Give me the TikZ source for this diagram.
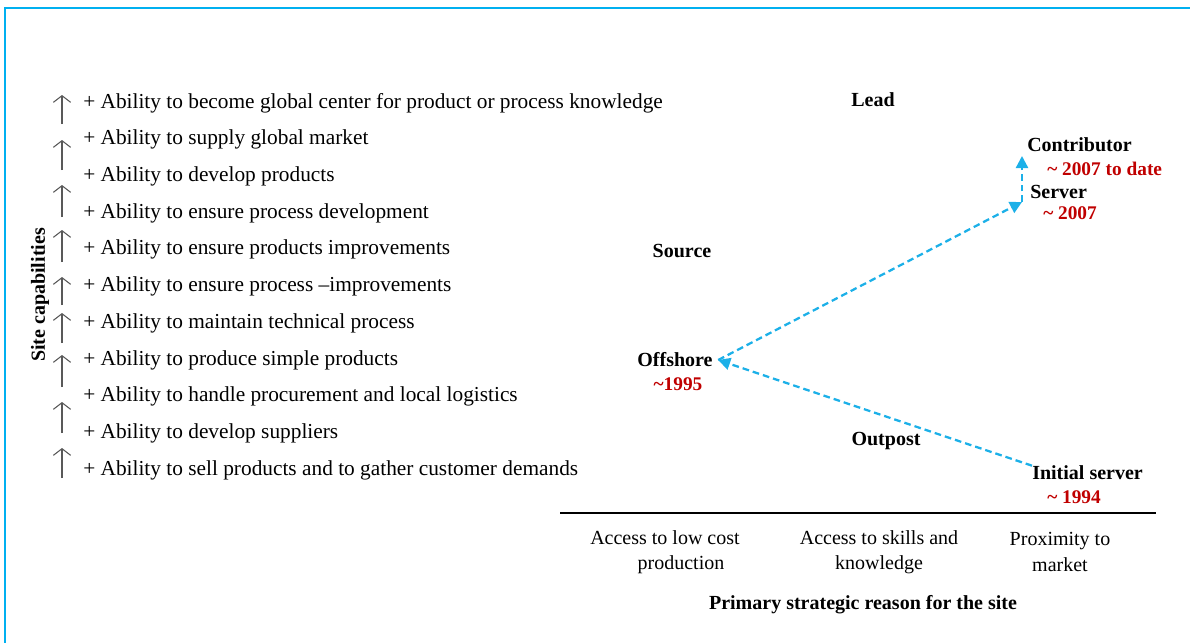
\documentclass[tikz,border=0pt]{standalone}
\usepackage{fontspec}
\setmainfont{Liberation Serif}
\usetikzlibrary{arrows.meta,positioning}

\definecolor{framecyan}{HTML}{00B0F0}
\definecolor{pathblue}{HTML}{1CB0E8}
\definecolor{yearred}{HTML}{C00000}
\definecolor{capgray}{HTML}{595959}

\tikzset{
  item/.style={anchor=west, inner sep=0pt, font=\fontsize{16}{19}\selectfont},
  role/.style={inner sep=0pt, font=\fontsize{15}{18}\selectfont\bfseries},
  year/.style={inner sep=0pt, text=yearred, font=\fontsize{14.5}{17}\selectfont\bfseries},
  reason/.style={inner sep=0pt, align=center, font=\fontsize{15}{19}\selectfont},
  capup/.style={capgray, line width=0.8pt, -{Straight Barb[length=5pt,width=13pt]}},
  move/.style={pathblue, line width=1.7pt, dash pattern=on 5pt off 3pt,
    -{Triangle[length=9pt,width=9pt]}}
}

\begin{document}
\begin{tikzpicture}[x=0.75pt, y=-0.75pt]
  \useasboundingbox (0,0) rectangle (1190,643);
  \draw[framecyan, line width=2pt] (5,8) rectangle (1210,660);

  %capabilities
  \foreach \txt [count=\i] in {%
      + Ability to become global center for product or process knowledge,
      + Ability to supply global market,
      + Ability to develop products,
      + Ability to ensure process development,
      + Ability to ensure products improvements,
      + Ability to ensure process --improvements,
      + Ability to maintain technical process,
      + Ability to produce simple products,
      + Ability to handle procurement and local logistics,
      + Ability to develop suppliers,
      + Ability to sell products and to gather customer demands}
    \node[item] (cap\i) at (83, 103+36.7*\i-36.7) {\txt};
  \foreach \lo/\hi [count=\j] in {124/95, 170/140, 217/185, 262/230, 305/277,
      343/313, 387/355, 433/402, 478/448}
    {
      \coordinate (up\j a) at (62,\lo);
      \coordinate (up\j b) at (62,\hi);
      \draw[capup] (up\j a) -- (up\j b);
    }
  \node[role, rotate=90] (sitecap) at (40,295) {Site capabilities};

  %roles
  \node[role] (lead) at (873,100) {Lead};
  \node[role] (source) at (682,251) {Source};
  \node[role] (outpost) at (886,441) {Outpost};
  \node[role] (off) at (675,360) {Offshore};
  \node[year] (offyr) at (678,384) {\textasciitilde 1995};
  \node[role, anchor=west] (ctb) at (1027,145) {Contributor};
  \node[year, anchor=west] (ctbyr) at (1047,169) {\textasciitilde{} 2007 to date};
  \node[role, anchor=west] (srv) at (1030,192) {Server};
  \node[year, anchor=west] (srvyr) at (1043,213) {\textasciitilde{} 2007};
  \node[role, anchor=west] (init) at (1032,473) {Initial server};
  \node[year, anchor=west] (inityr) at (1047,497) {\textasciitilde{} 1994};

  \coordinate (bend) at (1022,202);
  \coordinate (rise) at (1022,156);
  \draw[move] (init.north west) -- ([xshift=4pt]off.east);
  \draw[move] ([xshift=4pt]off.east) -- (bend);
  \draw[move] (bend) -- (rise);

  %strategic reason
  \coordinate (axl) at (560,513);
  \coordinate (axr) at (1156,513);
  \draw[black, line width=0.8pt] (axl) -- (axr);
  \node[reason] (cost) at (665,552) {Access to low cost\\\hspace*{1.6em}production};
  \node[reason] (skill) at (879,552) {Access to skills and\\knowledge};
  \node[reason] (prox) at (1060,552) {Proximity to\\market};
  \node[role] (reasonlbl) at (863,605) {Primary strategic reason for the site};
\end{tikzpicture}
\end{document}
